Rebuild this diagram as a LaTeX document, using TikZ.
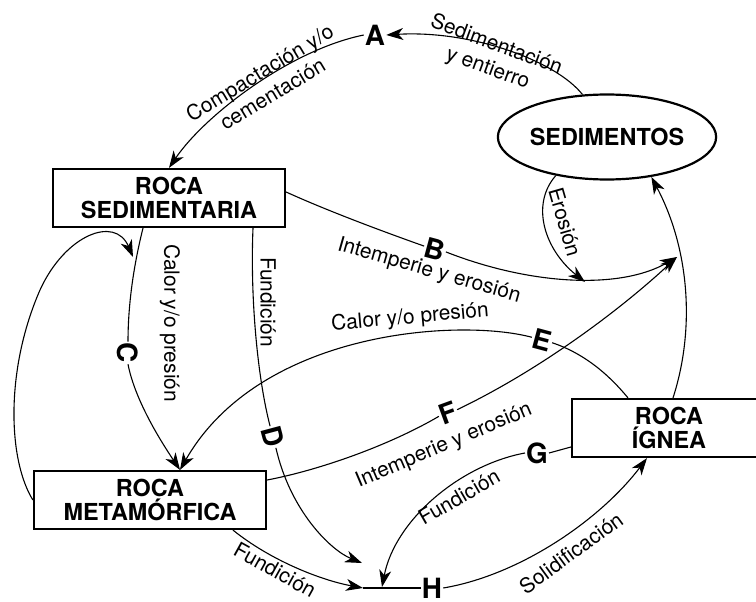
\documentclass[tikz,border=0pt]{standalone}
\usepackage{fontspec}
\setmainfont{TeX Gyre Heros}
\usetikzlibrary{arrows.meta,shapes.geometric}
\begin{document}
\begin{tikzpicture}[x=1bp,y=-1bp,
  conn/.style={line width=1.1bp, draw=black},
  arr/.style={conn,-{Stealth[length=17bp,width=12bp,inset=5bp]}},
  rockbox/.style={draw, line width=2.2bp, rectangle, minimum width=232bp, minimum height=58bp, inner sep=0pt, align=center, font=\fontsize{23.5}{24}\selectfont\bfseries},
  sedell/.style={draw, ellipse, line width=2.2bp, minimum width=190bp, minimum height=85bp, inner sep=0pt, font=\fontsize{23.5}{24}\selectfont\bfseries},
  letter/.style={font=\fontsize{28}{28}\selectfont\bfseries, inner sep=1bp},
  lbl/.style={font=\fontsize{21}{25}\selectfont, inner sep=0pt, align=center}
]
\clip (0,0) rectangle (756,602);
% main nodes
\node[rockbox] (rs) at (169,198) {ROCA\\SEDIMENTARIA};
\node[rockbox] (rm) at (150,500) {ROCA\\METAMÓRFICA};
\node[rockbox, minimum width=194bp] (ri) at (669,428) {ROCA\\ÍGNEA};
\node[sedell] (sed) at (607,137) {SEDIMENTOS};
% letters
\node[letter] (A) at (375,35) {A};
\node[letter, rotate=-15] (B) at (435,249) {B};
\node[letter, rotate=-90] (C) at (128,353) {C};
\node[letter, rotate=-75] (D) at (273,437) {D};
\node[letter, rotate=-15] (E) at (542,340) {E};
\node[letter, rotate=20] (F) at (448,413) {F};
\node[letter] (G) at (537,453) {G};
\node[letter] (H) at (432,588) {H};
% free ends
\coordinate (J) at (677,257);
\coordinate (Ero) at (585,282);
\coordinate (Lp) at (133,257);
\coordinate (Dt) at (362,563);
\coordinate (K) at (363,588);
\coordinate (Gt) at (382,587);
% connectors
\draw[arr] (sed.120) .. controls (555,60) and (470,30) .. (A.east);
\draw[arr] (A.west) .. controls (290,50) and (205,115) .. (rs.north);
\draw[conn] ([yshift=6bp]rs.east) .. controls (330,212) and (390,234) .. (B.west);
\draw[arr] (B.east) .. controls (530,285) and (620,290) .. (J);
\draw[arr] (sed.217) .. controls (530,205) and (545,250) .. (Ero);
\draw[conn] ([yshift=20bp]rm.east) .. controls (320,470) and (390,445) .. (F.west);
\draw[arr] (F.east) .. controls (540,370) and (620,310) .. (J);
\draw[conn] ([xshift=-41bp]ri.north) .. controls (605,370) and (580,352) .. (E.east);
\draw[arr] (E.west) .. controls (460,318) and (260,330) .. ([xshift=30bp]rm.north);
\draw[conn] ([xshift=-26bp]rs.south) .. controls (135,260) and (128,300) .. (C.west);
\draw[arr] (C.east) .. controls (135,400) and (160,440) .. ([xshift=30bp]rm.north);
\draw[arr] (rm.west) .. controls (8,460) and (5,370) .. (40,290) .. controls (65,235) and (115,215) .. (Lp);
\draw[conn] ([xshift=84bp]rs.south) .. controls (250,300) and (258,380) .. (D.west);
\draw[arr] (D.east) .. controls (290,510) and (330,550) .. (Dt);
\draw[arr] ([xshift=83bp]rm.south) .. controls (270,560) and (320,580) .. (K);
\draw[conn] (K) -- (H.west);
\draw[conn] ([yshift=-19bp]ri.west) -- (G.east);
\draw[arr] (G.west) .. controls (460,465) and (395,520) .. (Gt);
\draw[arr] (H.east) .. controls (520,575) and (600,520) .. ([xshift=-22bp]ri.south);
\draw[arr] ([xshift=4bp]ri.north) .. controls (695,330) and (690,250) .. (sed.318);
% labels
\node[lbl, rotate=-20] (l1) at (492,57) {Sedimentación\\y entierro};
\node[lbl, rotate=31] (l2) at (266,83) {Compactación y/o\\cementación};
\node[lbl, rotate=-16] (l3) at (429,271) {Intemperie y erosión};
\node[lbl, rotate=-74] (l4) at (565,222) {Erosión};
\node[lbl, rotate=-90] (l5) at (170,323) {Calor y/o presión};
\node[lbl, rotate=-90] (l6) at (268,302) {Fundición};
\node[lbl, rotate=5] (l7) at (410,318) {Calor y/o presión};
\node[lbl, rotate=23] (l8) at (444,446) {Intemperie y erosión};
\node[lbl, rotate=30] (l9) at (459,497) {Fundición};
\node[lbl, rotate=36] (l10) at (571,553) {Solidificación};
\node[lbl, rotate=-29] (l11) at (275,570) {Fundición};
\end{tikzpicture}
\end{document}
